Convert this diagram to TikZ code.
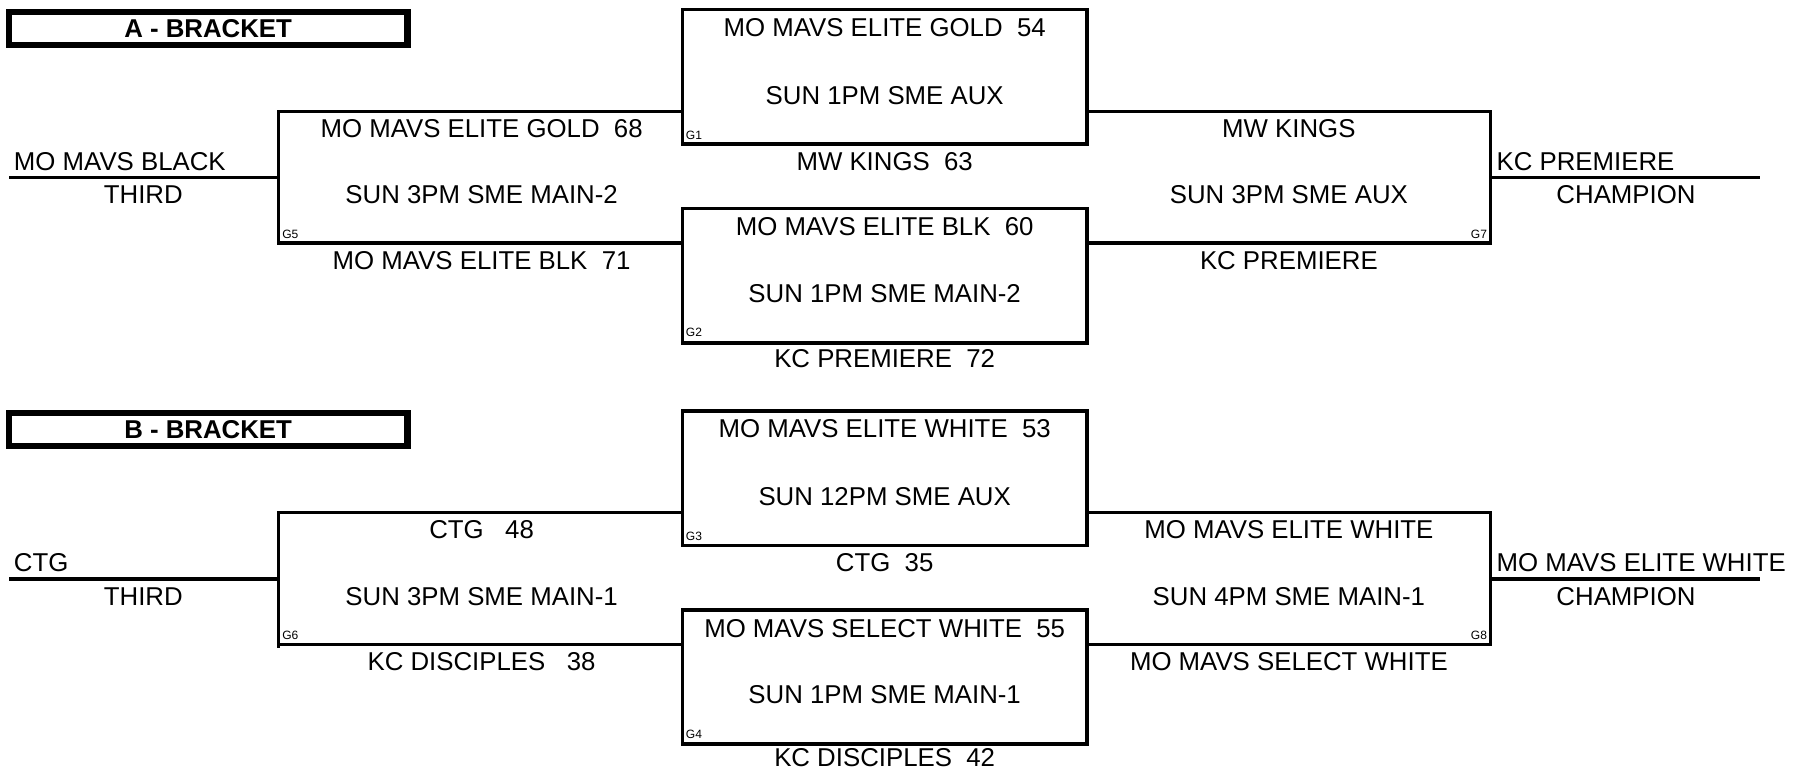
\documentclass[tikz,border=0pt]{standalone}
\usepackage{fontspec}
\setmainfont{Liberation Sans}
\begin{document}
\begin{tikzpicture}[x=1pt,y=-1pt,
  gbox/.style={draw, line width=3pt, minimum width=353pt, minimum height=117pt, inner sep=0pt},
  hdr/.style={draw, line width=5.5pt, minimum width=347.5pt, minimum height=29pt, inner sep=0pt, font=\bfseries\fontsize{22.5}{26}\selectfont},
  lbl/.style={inner sep=0pt, font=\fontsize{22.5}{27}\selectfont},
  tag/.style={inner sep=0pt, font=\fontsize{10.5}{12}\selectfont},
  ln/.style={line width=2.8pt}]
\useasboundingbox (0,0) rectangle (1568,672);

% ---------------- A bracket ----------------
\node[hdr] (hA) at (181.5,24.7) {A - BRACKET};
\node[gbox] (g1) at (771.5,67) {};
\node[gbox] (g2) at (771.5,240.5) {};
\coordinate (g5t) at (243,97);
\coordinate (g5b) at (243,212);
\coordinate (g7t) at (1300,97);
\coordinate (g7b) at (1300,212);
\coordinate (thA) at (8,155);
\coordinate (chA) at (1535,155);
\draw[ln] (g1.west |- g5t) -- (g5t) -- (g5b) -- (g2.west |- g5b);
\draw[ln] (thA) -- (thA -| g5t);
\draw[ln] (g1.east |- g7t) -- (g7t) -- (g7b) -- (g2.east |- g7b);
\draw[ln] (chA -| g7t) -- (chA);

\node[lbl] (g1a) at (771.5,24) {MO MAVS ELITE GOLD\ \ 54};
\node[lbl] (g1s) at (771.5,83) {SUN 1PM SME AUX};
\node[tag,anchor=south west] (g1t) at (598,122) {G1};
\node[lbl] (g1b) at (771.5,141) {MW KINGS\ \ 63};

\node[lbl] (g2a) at (771.5,198) {MO MAVS ELITE BLK\ \ 60};
\node[lbl] (g2s) at (771.5,256) {SUN 1PM SME MAIN-2};
\node[tag,anchor=south west] (g2t) at (598,294) {G2};
\node[lbl] (g2b) at (771.5,313) {KC PREMIERE\ \ 72};

\node[lbl] (g5a) at (420,112) {MO MAVS ELITE GOLD\ \ 68};
\node[lbl] (g5s) at (420,170) {SUN 3PM SME MAIN-2};
\node[tag,anchor=south west] (g5g) at (246,208) {G5};
\node[lbl] (g5c) at (420,227) {MO MAVS ELITE BLK\ \ 71};
\node[lbl,anchor=west] (thAn) at (12,141) {MO MAVS BLACK};
\node[lbl] (thAl) at (125,170) {THIRD};

\node[lbl] (g7a) at (1124,112) {MW KINGS};
\node[lbl] (g7s) at (1124,170) {SUN 3PM SME AUX};
\node[tag,anchor=south east] (g7g) at (1297,208) {G7};
\node[lbl] (g7c) at (1124,227) {KC PREMIERE};
\node[lbl,anchor=west] (chAn) at (1305,141) {KC PREMIERE};
\node[lbl] (chAl) at (1418,170) {CHAMPION};

% ---------------- B bracket ----------------
\node[hdr] (hB) at (181.5,374.7) {B - BRACKET};
\node[gbox] (g3) at (771.5,417) {};
\node[gbox] (g4) at (771.5,590.5) {};
\coordinate (g6t) at (243,447);
\coordinate (g6b) at (243,562);
\coordinate (g8t) at (1300,447);
\coordinate (g8b) at (1300,562);
\coordinate (thB) at (8,505);
\coordinate (chB) at (1535,505);
\draw[ln] (g3.west |- g6t) -- (g6t) -- (g6b) -- (g4.west |- g6b);
\draw[ln] (g6b) -- ++(0,3);
\draw[ln] (thB) -- (thB -| g6t);
\draw[ln] (g3.east |- g8t) -- (g8t) -- (g8b) -- (g4.east |- g8b);
\draw[ln] (chB -| g8t) -- (chB);

\node[lbl] (g3a) at (771.5,374) {MO MAVS ELITE WHITE\ \ 53};
\node[lbl] (g3s) at (771.5,433) {SUN 12PM SME AUX};
\node[tag,anchor=south west] (g3t) at (598,472) {G3};
\node[lbl] (g3b) at (771.5,491) {CTG\ \ 35};

\node[lbl] (g4a) at (771.5,548) {MO MAVS SELECT WHITE\ \ 55};
\node[lbl] (g4s) at (771.5,606) {SUN 1PM SME MAIN-1};
\node[tag,anchor=south west] (g4t) at (598,644) {G4};
\node[lbl] (g4b) at (771.5,661) {KC DISCIPLES\ \ 42};

\node[lbl] (g6a) at (420,462) {CTG\ \ \ 48};
\node[lbl] (g6s) at (420,520) {SUN 3PM SME MAIN-1};
\node[tag,anchor=south west] (g6g) at (246,558) {G6};
\node[lbl] (g6c) at (420,577) {KC DISCIPLES\ \ \ 38};
\node[lbl,anchor=west] (thBn) at (12,491) {CTG};
\node[lbl] (thBl) at (125,520) {THIRD};

\node[lbl] (g8a) at (1124,462) {MO MAVS ELITE WHITE};
\node[lbl] (g8s) at (1124,520) {SUN 4PM SME MAIN-1};
\node[tag,anchor=south east] (g8g) at (1297,558) {G8};
\node[lbl] (g8c) at (1124,577) {MO MAVS SELECT WHITE};
\node[lbl,anchor=west] (chBn) at (1305,491) {MO MAVS ELITE WHITE};
\node[lbl] (chBl) at (1418,520) {CHAMPION};
\end{tikzpicture}
\end{document}
